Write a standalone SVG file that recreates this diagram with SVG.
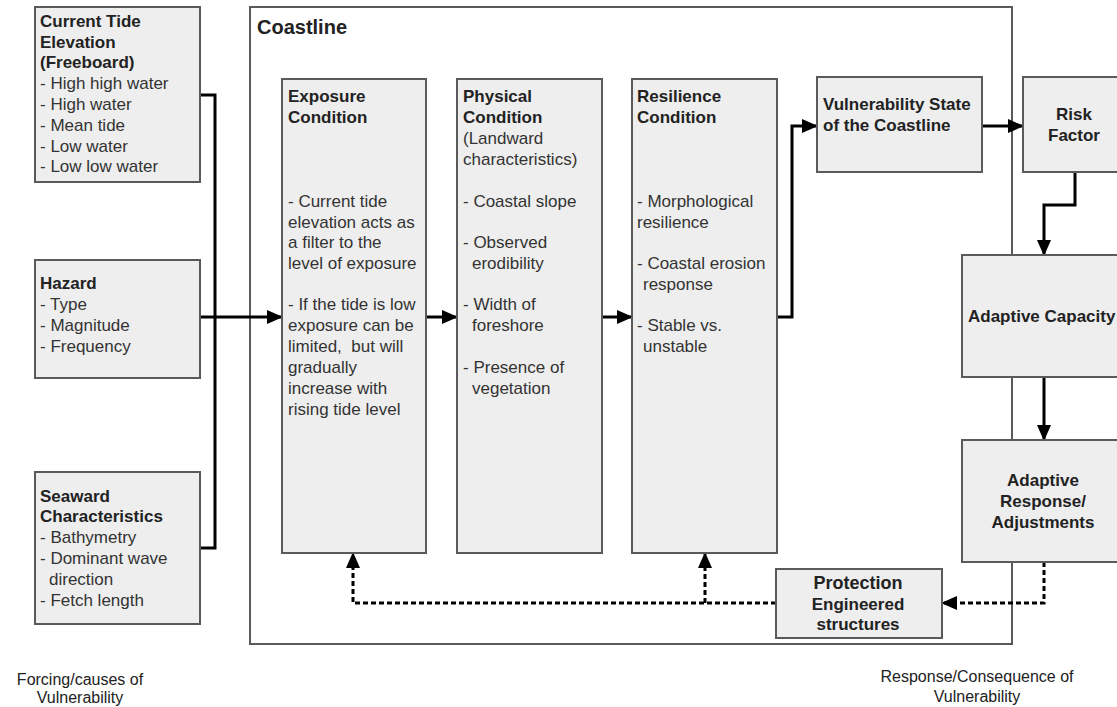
<svg xmlns="http://www.w3.org/2000/svg" width="1117" height="707" viewBox="0 0 1117 707">
<style>
.box{fill:#eeeeee;stroke:#5a5a5a;stroke-width:2}
.frame{fill:#ffffff;stroke:#5a5a5a;stroke-width:2}
text{font-family:"Liberation Sans",Arial,sans-serif;font-size:17px;fill:#333333}
.b{font-weight:bold;fill:#222222}
.c{text-anchor:middle}
.t{font-size:20px}
.p{font-size:18px}
.lab{font-size:16px;fill:#222222}
.con{fill:none;stroke:#000000;stroke-width:3}
.dot{fill:none;stroke:#000000;stroke-width:3;stroke-dasharray:5 3}
</style>
<defs>
<marker id="ah" markerUnits="userSpaceOnUse" markerWidth="16" markerHeight="14" refX="15" refY="7" orient="auto">
<path d="M0,0 L16,7 L0,14 z" fill="#000000"/>
</marker>
</defs>
<g id="coastline">
<rect class="frame" x="250" y="7" width="762" height="637"/>
<text class="b t" x="257" y="34">Coastline</text>
</g>
<g id="connectors">
<path class="con" d="M200,95 H215 V548 H200"/>
<path class="con" d="M200,317 H282" marker-end="url(#ah)"/>
<path class="con" d="M426,317 H457" marker-end="url(#ah)"/>
<path class="con" d="M602,317 H632" marker-end="url(#ah)"/>
<path class="con" d="M777,317 H792 V126 H817" marker-end="url(#ah)"/>
<path class="con" d="M982,126 H1023" marker-end="url(#ah)"/>
<path class="con" d="M1075,172 V205 H1044 V255" marker-end="url(#ah)"/>
<path class="con" d="M1044,377 V440" marker-end="url(#ah)"/>
<path class="dot" d="M1044,562 V603 H942" marker-end="url(#ah)"/>
<path class="dot" d="M776,603 H353 V553" marker-end="url(#ah)"/>
<path class="dot" d="M705,603 V553" marker-end="url(#ah)"/>
</g>
<g id="tide">
<rect class="box" x="35" y="7" width="165" height="175"/>
<text class="b" x="40" y="27">Current Tide</text>
<text class="b" x="40" y="48">Elevation</text>
<text class="b" x="40" y="68">(Freeboard)</text>
<text x="40" y="89">- High high water</text>
<text x="40" y="110">- High water</text>
<text x="40" y="131">- Mean tide</text>
<text x="40" y="152">- Low water</text>
<text x="40" y="172">- Low low water</text>
</g>
<g id="hazard">
<rect class="box" x="35" y="260" width="165" height="118"/>
<text class="b" x="40" y="289">Hazard</text>
<text x="40" y="310">- Type</text>
<text x="40" y="331">- Magnitude</text>
<text x="40" y="352">- Frequency</text>
</g>
<g id="seaward">
<rect class="box" x="35" y="472" width="165" height="152"/>
<text class="b" x="40" y="502">Seaward</text>
<text class="b" x="40" y="522">Characteristics</text>
<text x="40" y="543">- Bathymetry</text>
<text x="40" y="564">- Dominant wave</text>
<text x="49" y="585">direction</text>
<text x="40" y="606">- Fetch length</text>
</g>
<g id="exposure">
<rect class="box" x="282" y="79" width="144" height="474"/>
<text class="b" x="288" y="102">Exposure</text>
<text class="b" x="288" y="123">Condition</text>
<text x="288" y="207">- Current tide</text>
<text x="288" y="228">elevation acts as</text>
<text x="288" y="248">a filter to the</text>
<text x="288" y="269">level of exposure</text>
<text x="288" y="310">- If the tide is low</text>
<text x="288" y="331">exposure can be</text>
<text x="288" y="352" xml:space="preserve">limited,  but will</text>
<text x="288" y="373">gradually</text>
<text x="288" y="394">increase with</text>
<text x="288" y="415">rising tide level</text>
</g>
<g id="physical">
<rect class="box" x="457" y="79" width="145" height="474"/>
<text class="b" x="463" y="102">Physical</text>
<text class="b" x="463" y="123">Condition</text>
<text x="463" y="144">(Landward</text>
<text x="463" y="165">characteristics)</text>
<text x="463" y="207">- Coastal slope</text>
<text x="463" y="248">- Observed</text>
<text x="472" y="269">erodibility</text>
<text x="463" y="310">- Width of</text>
<text x="472" y="331">foreshore</text>
<text x="463" y="373">- Presence of</text>
<text x="472" y="394">vegetation</text>
</g>
<g id="resilience">
<rect class="box" x="632" y="79" width="145" height="474"/>
<text class="b" x="637" y="102">Resilience</text>
<text class="b" x="637" y="123">Condition</text>
<text x="637" y="207">- Morphological</text>
<text x="637" y="228">resilience</text>
<text x="637" y="269">- Coastal erosion</text>
<text x="643" y="290">response</text>
<text x="637" y="331">- Stable vs.</text>
<text x="643" y="352">unstable</text>
</g>
<g id="vulnerability">
<rect class="box" x="817" y="77" width="165" height="95"/>
<text class="b" x="823" y="110">Vulnerability State</text>
<text class="b" x="823" y="131">of the Coastline</text>
</g>
<g id="risk">
<rect class="box" x="1023" y="77" width="130" height="95"/>
<text class="b c" x="1074" y="120">Risk</text>
<text class="b c" x="1074" y="141">Factor</text>
</g>
<g id="capacity">
<rect class="box" x="962" y="255" width="200" height="122"/>
<text class="b" x="968" y="322">Adaptive Capacity</text>
</g>
<g id="response">
<rect class="box" x="962" y="440" width="200" height="122"/>
<text class="b c" x="1043" y="486">Adaptive</text>
<text class="b c" x="1043" y="507">Response/</text>
<text class="b c" x="1043" y="528">Adjustments</text>
</g>
<g id="protection">
<rect class="box" x="776" y="569" width="166" height="69"/>
<text class="b c p" x="858" y="589">Protection</text>
<text class="b c" x="858" y="610">Engineered</text>
<text class="b c" x="858" y="630">structures</text>
</g>
<g id="labels">
<text class="lab c" x="80" y="685">Forcing/causes of</text>
<text class="lab c" x="80" y="703">Vulnerability</text>
<text class="lab c" x="977" y="682">Response/Consequence of</text>
<text class="lab c" x="977" y="702">Vulnerability</text>
</g>
</svg>
